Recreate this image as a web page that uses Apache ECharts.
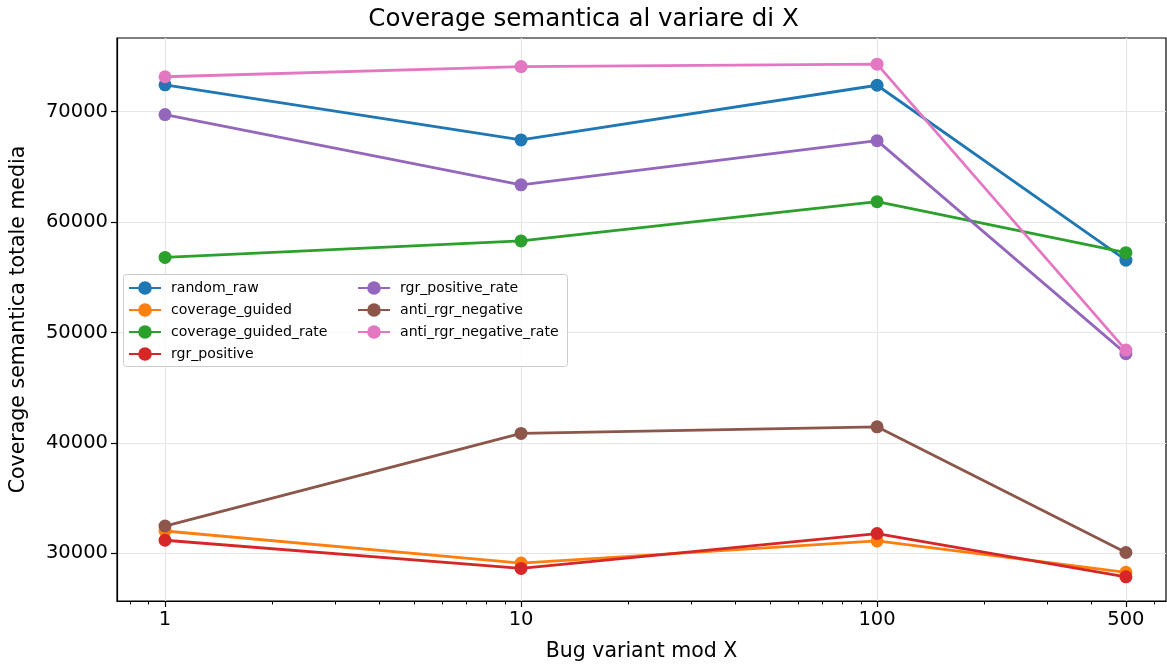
<!DOCTYPE html>
<html>
<head>
<meta charset="utf-8">
<script src="https://cdn.jsdelivr.net/npm/echarts@6/dist/echarts.min.js"></script>
<style>
html,body{margin:0;padding:0;background:#fff;}
#chart{width:1167px;height:667px;}
</style>
</head>
<body>
<div id="chart"></div>
<script>
const xValues = [1, 10, 100, 500];
const xTickLabels = [1, 10, 100, 500];
const xMinorTicks = [0.8, 0.9, 2, 3, 4, 5, 6, 7, 8, 9, 20, 30, 40, 50, 60, 70, 80, 90, 200, 300, 400, 600];
const yTickValues = [30000, 40000, 50000, 60000, 70000];

const random_raw = [72440, 67450, 72400, 56550];
const coverage_guided = [32010, 29100, 31110, 28260];
const coverage_guided_rate = [56800, 58290, 61850, 57230];
const rgr_positive = [31170, 28620, 31780, 27860];
const rgr_positive_rate = [69740, 63380, 67380, 48080];
const anti_rgr_negative = [32460, 40850, 41450, 30060];
const anti_rgr_negative_rate = [73170, 74090, 74310, 48400];

const seriesNames = ['random_raw','coverage_guided','coverage_guided_rate','rgr_positive','rgr_positive_rate','anti_rgr_negative','anti_rgr_negative_rate'];
const seriesData = [random_raw, coverage_guided, coverage_guided_rate, rgr_positive, rgr_positive_rate, anti_rgr_negative, anti_rgr_negative_rate];
const colors = ['#1f77b4','#ff7f0e','#2ca02c','#d62728','#9467bd','#8c564b','#e377c2'];

const FONT = 'DejaVu Sans';
const X_MIN = 0.733, X_MAX = 648;
const Y_MIN = 25666, Y_MAX = 76682;

const chart = echarts.init(document.getElementById('chart'), null, {renderer: 'canvas'});

const series = seriesNames.map((name, i) => ({
  name: name,
  type: 'line',
  xAxisIndex: 0,
  data: xValues.map((x, j) => [x, seriesData[i][j]]),
  symbol: 'circle',
  symbolSize: 13,
  lineStyle: {width: 2.8, color: colors[i]},
  itemStyle: {color: colors[i]},
  z: 2 + i * 0.01,
  animation: false
}));

const legendCommon = {
  orient: 'vertical',
  top: 276,
  padding: [5, 5, 5, 5],
  itemGap: 8,
  itemWidth: 32,
  itemHeight: 17,
  textStyle: {fontFamily: FONT, fontSize: 14.1, color: '#000', padding: [0, 0, 0, 5]},
  z: 5
};

chart.setOption({
  animation: false,
  backgroundColor: '#fff',
  color: colors,
  textStyle: {fontFamily: FONT},
  title: {
    text: 'Coverage semantica al variare di X',
    left: 'center',
    top: 2,
    textStyle: {fontFamily: FONT, fontSize: 24.5, fontWeight: 'normal', color: '#000'}
  },
  grid: {
    left: 117, right: 1, top: 38, bottom: 64,
    show: true, borderColor: '#000', borderWidth: 1.2, backgroundColor: 'transparent'
  },
  graphic: [{
    type: 'rect',
    shape: {x: 123.5, y: 274.5, width: 444, height: 92, r: 3},
    style: {fill: 'rgba(255,255,255,0.8)', stroke: '#cccccc', lineWidth: 1},
    z: 3
  }],
  legend: [
    Object.assign({}, legendCommon, {data: seriesNames.slice(0, 4), left: 123}),
    Object.assign({}, legendCommon, {data: seriesNames.slice(4), left: 352})
  ],
  xAxis: [{
    type: 'log',
    logBase: 10,
    min: X_MIN,
    max: X_MAX,
    name: 'Bug variant mod X',
    nameLocation: 'middle',
    nameGap: 40,
    nameTextStyle: {fontFamily: FONT, fontSize: 20.5, color: '#000'},
    axisLine: {show: true, lineStyle: {color: '#000', width: 1.2}},
    axisTick: {show: true, inside: false, length: 6, customValues: xTickLabels, lineStyle: {color: '#000', width: 1.2}},
    axisLabel: {show: true, customValues: xTickLabels, margin: 9, fontFamily: FONT, fontSize: 19.5, color: '#000',
      formatter: v => String(Math.round(v))},
    splitLine: {show: true, lineStyle: {color: '#e6e6e6', width: 1.2}},
    minorTick: {show: false}
  }, {
    type: 'log',
    logBase: 10,
    min: X_MIN,
    max: X_MAX,
    position: 'bottom',
    axisLine: {show: false},
    axisTick: {show: true, inside: false, length: 3.5, customValues: xMinorTicks, lineStyle: {color: '#000', width: 1}},
    axisLabel: {show: false},
    splitLine: {show: false}
  }],
  yAxis: {
    type: 'value',
    min: Y_MIN,
    max: Y_MAX,
    name: 'Coverage semantica totale media',
    nameLocation: 'middle',
    nameRotate: 90,
    nameGap: 88,
    nameTextStyle: {fontFamily: FONT, fontSize: 20.5, color: '#000'},
    axisLine: {show: true, lineStyle: {color: '#000', width: 1.2}},
    axisTick: {show: true, inside: false, length: 6, customValues: yTickValues, lineStyle: {color: '#000', width: 1.2}},
    axisLabel: {show: true, customValues: yTickValues, margin: 9, fontFamily: FONT, fontSize: 19.5, color: '#000',
      formatter: v => String(Math.round(v))},
    splitLine: {show: true, lineStyle: {color: '#e6e6e6', width: 1.2}}
  },
  series: series
});
</script>
</body>
</html>
